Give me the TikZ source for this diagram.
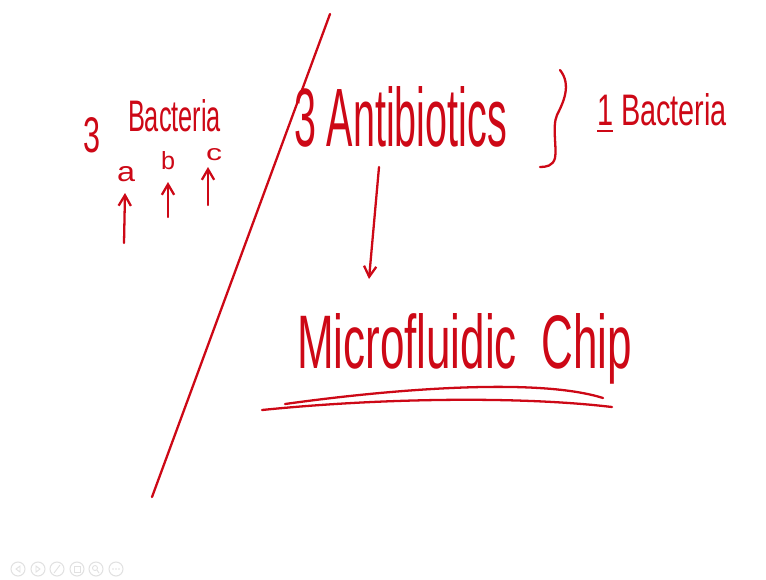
\documentclass[tikz,border=0pt]{standalone}
\usepackage{fontspec}
\setmainfont{Liberation Sans}
\usetikzlibrary{arrows.meta}
\definecolor{ink}{RGB}{205,8,22}
\definecolor{ui}{RGB}{225,225,225}
\tikzset{
  pen/.style={draw=ink, line width=1.3pt, line cap=round, line join=round},
  penarrow/.style={pen, -{Straight Barb[length=6pt,width=7pt]}},
  hand/.style={text=ink, inner sep=0pt, outer sep=0pt, anchor=base west},
  uibtn/.style={draw=ui, line width=0.6pt, circle, minimum size=0.28cm, inner sep=0pt}
}
\begin{document}
\begin{tikzpicture}[x=0.02cm, y=-0.02cm]
\useasboundingbox (0,0) rectangle (766,579);
\fill[white] (0,0) rectangle (766,579);

% left block
\node[hand] (three) at (83,152) {\resizebox{0.34cm}{0.7cm}{3}};
\node[hand] (bact3) at (128,131) {\resizebox{1.86cm}{0.64cm}{Bacteria}};
\node[hand] (la) at (117,181) {\resizebox{0.36cm}{0.3cm}{a}};
\node[hand] (lb) at (161,169) {\resizebox{0.28cm}{0.36cm}{b}};
\node[hand] (lc) at (206,160) {\resizebox{0.32cm}{0.24cm}{c}};
\coordinate (ta) at (124,243); \coordinate (ha) at (125,193);
\coordinate (tb) at (168,217); \coordinate (hb) at (168,182);
\coordinate (tc) at (208,205); \coordinate (hc) at (208,167);
\draw[penarrow] (ta) -- (ha);
\draw[penarrow] (tb) -- (hb);
\draw[penarrow] (tc) -- (hc);

% divider
\coordinate (d1) at (330,14); \coordinate (d2) at (152,497);
\draw[pen] (d1) -- (d2);

% right block
\node[hand] (anti) at (294,146) {\resizebox{4.26cm}{1.2cm}{3 Antibiotics}};
\draw[pen] (560,70) .. controls (572,85) and (563,103) .. (557,115)
  .. controls (552,126) and (557,148) .. (555,158)
  .. controls (553,166) and (546,167) .. (540,167);
\node[hand] (bact1) at (597,125) {\resizebox{2.6cm}{0.64cm}{\underline{1} Bacteria}};

\node[hand] (chip) at (297,368) {\resizebox{6.7cm}{1.1cm}{Microfluidic \ Chip}};
\coordinate (at) at (379,167); \coordinate (ah) at (369,279);
\draw[penarrow] (at) -- (ah);

\draw[pen] (285,404) .. controls (400,388) and (540,378) .. (603,398);
\draw[pen] (262,410) .. controls (380,398) and (520,396) .. (612,407);

% faint toolbar
\foreach \i/\x in {1/18,2/38,3/57,4/77,5/96,6/116}{
  \node[uibtn] (btn\i) at (\x,569) {};
}
\draw[ui, line width=0.5pt] (20,566) -- (16,569) -- (20,572) -- cycle;
\draw[ui, line width=0.5pt] (36,566) -- (40,569) -- (36,572) -- cycle;
\draw[ui, line width=0.5pt] (54,573) -- (60,565);
\draw[ui, line width=0.5pt] (74,566) rectangle (80,572);
\draw[ui, line width=0.5pt] (95,568) circle (2.5) (97,570) -- (99,573);
\fill[ui] (113,569) circle (0.8) (116,569) circle (0.8) (119,569) circle (0.8);
\end{tikzpicture}
\end{document}
